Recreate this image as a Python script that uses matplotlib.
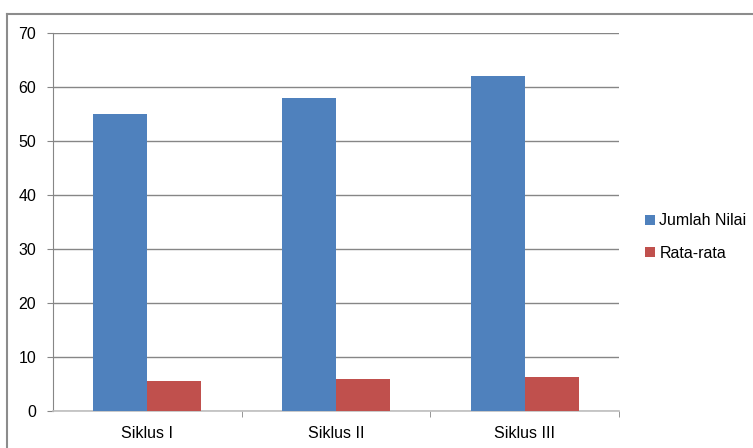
import matplotlib.pyplot as plt
import numpy as np
from matplotlib.lines import Line2D

siklus = ["Siklus I", "Siklus II", "Siklus III"]
jumlah_nilai = [55, 58, 62]
rata_rata = [5.5, 5.8, 6.2]

plt.rcParams['font.family'] = ['Liberation Sans', 'DejaVu Sans']

fig = plt.figure(figsize=(7.53, 4.48), dpi=100)
ax = fig.add_axes([53 / 753, 1 - 410.5 / 448, 566 / 753, 377.5 / 448])

x = np.arange(len(siklus))
w = 0.286
ax.bar(x - w / 2, jumlah_nilai, w, color='#4F81BD', label='Jumlah Nilai', zorder=3)
ax.bar(x + w / 2, rata_rata, w, color='#C0504D', label='Rata-rata', zorder=3)

ax.set_xlim(-0.5, len(siklus) - 0.5)
ax.set_ylim(0, 70)
ax.set_yticks(range(0, 71, 10))
ax.yaxis.grid(True, color='#868686', linewidth=1, zorder=0)

# category labels at centers, tick marks at the boundaries
ax.set_xticks(x)
ax.set_xticklabels(siklus)
ax.set_xticks(np.arange(0.5, len(siklus), 1), minor=True)
ax.tick_params(axis='x', which='major', length=0, pad=11, labelsize=11.5)
ax.tick_params(axis='x', which='minor', length=4, color='#868686', direction='out')
ax.tick_params(axis='y', length=4.5, color='#868686', pad=7.5, labelsize=11.5)

for s in ['top', 'right']:
    ax.spines[s].set_visible(False)
ax.spines['left'].set_color('#868686')
ax.spines['bottom'].set_color('#bfbfbf')
ax.spines['bottom'].set_linewidth(1.2)

fig.legend(loc='center left', bbox_to_anchor=(645 / 753, 1 - 237 / 448),
           frameon=False, fontsize=11.5, handlelength=0.6, handleheight=0.6,
           handletextpad=0.3, labelspacing=1.1, borderpad=0, borderaxespad=0)

# chart border along the top and left edges
fig.add_artist(Line2D([7 / 753, 7 / 753], [0, 1 - 14 / 448], transform=fig.transFigure,
                      color='#8c8c8c', linewidth=1.5))
fig.add_artist(Line2D([7 / 753, 1], [1 - 14 / 448, 1 - 14 / 448], transform=fig.transFigure,
                      color='#8c8c8c', linewidth=1.5))

plt.savefig("out.png", dpi=100)
plt.close()
